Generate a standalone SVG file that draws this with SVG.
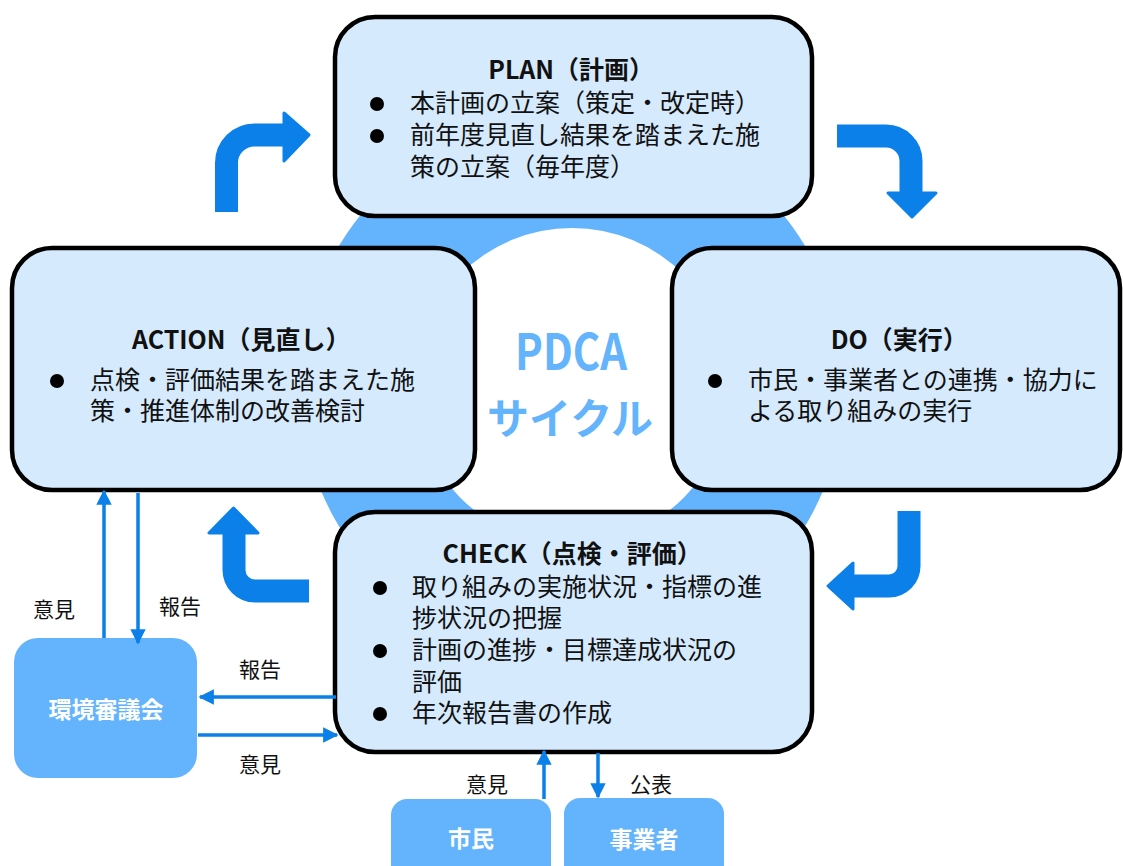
<svg xmlns="http://www.w3.org/2000/svg" width="1123" height="866" viewBox="0 0 1123 866">
  <style>
    .box { fill: #D5EAFD; stroke: #000; stroke-width: 4.5; }
    .sub { fill: #63B4FC; }
    .t { font-family: "Noto Sans CJK JP", "Noto Sans", sans-serif; fill: #111; }
    .body { font-size: 25px; }
    .title { font-weight: bold; text-anchor: middle; }
    .line { font-weight: normal; text-anchor: start; }
    .lbl { font-size: 21px; }
    .white { font-family: "Noto Sans CJK JP", "Noto Sans", sans-serif; fill: #fff; font-size: 23px; font-weight: bold; text-anchor: middle; }
    .cycle { font-family: "Noto Sans CJK JP", "Noto Sans", sans-serif; fill: #63B4FC; font-weight: bold; text-anchor: middle; }
    .turn { fill: none; stroke: #0A80E8; stroke-width: 23; stroke-linejoin: round; }
    .head { fill: #0A80E8; stroke: #0A80E8; stroke-width: 3; stroke-linejoin: round; }
    .link { stroke: #0A80E8; stroke-width: 3.5; fill: none; marker-end: url(#tip); }
    .dot { fill: #000; }
  </style>
  <defs>
    <marker id="tip" viewBox="0 0 10 10" refX="9" refY="5" markerWidth="4.4" markerHeight="4.4" markerUnits="strokeWidth" orient="auto">
      <path d="M0,0 L10,5 L0,10 Z" fill="#0A80E8"/>
    </marker>
  </defs>

  <rect width="1123" height="866" fill="#fff"/>

  <!-- cycle ring behind the four stages -->
  <g id="ring">
    <circle cx="572" cy="386" r="272" fill="#63B4FC"/>
    <circle cx="572" cy="386" r="158" fill="#fff"/>
  </g>

  <!-- turning arrows between stages -->
  <g id="turns">
    <path class="turn" d="M226.5,212 V163 A28,28 0 0 1 254.5,135 H285"/>
    <path class="head" d="M284,113 L309,135 L284,161 Z"/>
    <path class="turn" d="M837,136 H886 A25,25 0 0 1 911,161 V194"/>
    <path class="head" d="M888,193 L936,193 L912,217 Z"/>
    <path class="turn" d="M909,511 V566 A20,20 0 0 1 889,586 H852"/>
    <path class="head" d="M853,563 L853,609 L828,586 Z"/>
    <path class="turn" d="M309,591 H255 A21,21 0 0 1 234,570 V532"/>
    <path class="head" d="M209,533 L258,533 L233.5,508 Z"/>
  </g>

  <g id="plan">
    <rect class="box" x="335" y="17" width="477" height="199" rx="40"/>
    <circle class="dot" cx="377" cy="104" r="7"/>
    <circle class="dot" cx="377" cy="136" r="7"/>
    <text class="t body">
      <tspan class="title" x="574" y="79">PLAN（計画）</tspan>
      <tspan class="line" x="410" y="112">本計画の立案（策定・改定時）</tspan>
      <tspan class="line" x="410" y="144">前年度見直し結果を踏まえた施</tspan>
      <tspan class="line" x="410" y="176">策の立案（毎年度）</tspan>
    </text>
  </g>

  <g id="action">
    <rect class="box" x="12" y="248" width="463" height="242" rx="40"/>
    <circle class="dot" cx="57" cy="381" r="7"/>
    <text class="t body">
      <tspan class="title" x="244" y="349">ACTION（見直し）</tspan>
      <tspan class="line" x="90" y="389">点検・評価結果を踏まえた施</tspan>
      <tspan class="line" x="90" y="420">策・推進体制の改善検討</tspan>
    </text>
  </g>

  <g id="do">
    <rect class="box" x="672" y="248" width="448" height="242" rx="40"/>
    <circle class="dot" cx="715" cy="381" r="7"/>
    <text class="t body">
      <tspan class="title" x="902" y="349">DO（実行）</tspan>
      <tspan class="line" x="748" y="389">市民・事業者との連携・協力に</tspan>
      <tspan class="line" x="748" y="420">よる取り組みの実行</tspan>
    </text>
  </g>

  <g id="check">
    <rect class="box" x="335" y="512" width="477" height="240" rx="40"/>
    <circle class="dot" cx="380" cy="588" r="7"/>
    <circle class="dot" cx="380" cy="651" r="7"/>
    <circle class="dot" cx="380" cy="714" r="7"/>
    <text class="t body">
      <tspan class="title" x="575" y="563">CHECK（点検・評価）</tspan>
      <tspan class="line" x="412" y="596">取り組みの実施状況・指標の進</tspan>
      <tspan class="line" x="412" y="627">捗状況の把握</tspan>
      <tspan class="line" x="412" y="659">計画の進捗・目標達成状況の</tspan>
      <tspan class="line" x="412" y="691">評価</tspan>
      <tspan class="line" x="412" y="722">年次報告書の作成</tspan>
    </text>
  </g>

  <g id="center-label">
    <text class="cycle" x="571" y="370" font-size="50" textLength="112" lengthAdjust="spacingAndGlyphs">PDCA</text>
    <text class="cycle" x="570" y="434" font-size="42">サイクル</text>
  </g>

  <g id="council">
    <rect class="sub" x="14" y="638" width="183" height="140" rx="24"/>
    <text class="white" x="106" y="718">環境審議会</text>
  </g>

  <g id="citizens">
    <rect class="sub" x="391" y="799" width="160" height="90" rx="16"/>
    <text class="white" x="471" y="847">市民</text>
  </g>

  <g id="business">
    <rect class="sub" x="564" y="798" width="160" height="90" rx="16"/>
    <text class="white" x="644" y="848">事業者</text>
  </g>

  <!-- reporting / feedback connectors -->
  <g id="connectors">
    <line class="link" x1="104" y1="638" x2="104" y2="491"/>
    <line class="link" x1="138" y1="493" x2="138" y2="643"/>
    <line class="link" x1="336" y1="697" x2="200" y2="697"/>
    <line class="link" x1="198" y1="735" x2="337" y2="735"/>
    <line class="link" x1="544" y1="799" x2="544" y2="751"/>
    <line class="link" x1="598" y1="753" x2="598" y2="797"/>
    <text class="t lbl" x="33" y="617">意見</text>
    <text class="t lbl" x="159" y="614">報告</text>
    <text class="t lbl" x="239" y="677">報告</text>
    <text class="t lbl" x="239" y="772">意見</text>
    <text class="t lbl" x="466" y="792">意見</text>
    <text class="t lbl" x="630" y="792">公表</text>
  </g>
</svg>
